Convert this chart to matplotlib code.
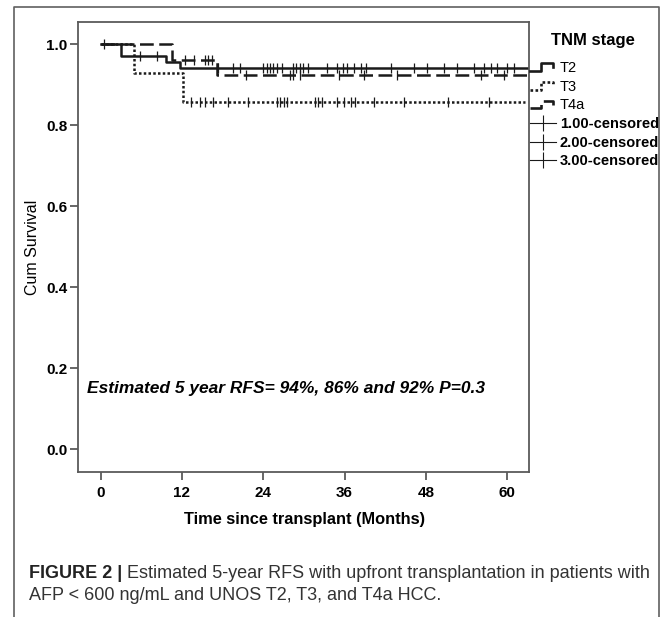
import matplotlib
matplotlib.use("Agg")
import matplotlib.pyplot as plt
from matplotlib.lines import Line2D
from matplotlib.legend_handler import HandlerBase
import numpy as np

plt.rcParams['font.family'] = ['Liberation Sans', 'DejaVu Sans']

# Kaplan-Meier step data (months, cum survival)
t2_times = [0, 3.0, 9.7, 11.7]
t2_surv = [1.0, 0.971, 0.957, 0.942]
t2_end = 63.0
t2_censor = [0.5, 5.8, 8.3, 17.3, 19.6, 20.6, 24.0, 24.5, 25.0, 25.5, 26.0, 26.7,
             28.4, 28.9, 29.4, 29.9, 30.6, 33.4, 34.9, 35.7, 36.4, 37.4, 38.4,
             39.1, 42.8, 46.2, 48.2, 50.7, 52.6, 55.1, 56.6, 57.6, 58.5, 60.0, 61.0]

t3_times = [0, 4.9, 12.2]
t3_surv = [1.0, 0.929, 0.857]
t3_end = 62.7
t3_censor = [13.4, 14.7, 15.4, 16.6, 18.8, 21.8, 26.0, 26.5, 27.0, 27.5, 31.6,
             32.1, 32.6, 34.9, 35.9, 36.9, 37.6, 40.3, 44.8, 51.2, 57.3]

t4a_times = [0, 10.5, 17.1]
t4a_surv = [1.0, 0.962, 0.924]
t4a_end = 63.2
t4a_censor = [12.4, 13.7, 15.4, 15.9, 16.4, 21.5, 27.9, 28.4, 29.4, 35.2, 38.9,
              43.8, 56.1, 59.5]

x_ticks = [0, 12, 24, 36, 48, 60]
y_ticks = [0.0, 0.2, 0.4, 0.6, 0.8, 1.0]
group_labels = ['T2', 'T3', 'T4a']
censor_labels = ['1.00-censored', '2.00-censored', '3.00-censored']
note = 'Estimated 5 year RFS= 94%, 86% and 92% P=0.3'

ink = '#1a1a1a'
frame = '#5a5a5a'
styles = {'T2': '-', 'T3': (0, (1.0, 0.9)), 'T4a': (0, (5.5, 2.2))}

fig = plt.figure(figsize=(6.69, 6.17), dpi=100)
ax = fig.add_axes([78 / 669, 1 - 472 / 617, 451 / 669, 450 / 617])


def draw_km(times, surv, end, cens, ls):
    t = np.array(list(times) + [end])
    s = np.array(list(surv) + [surv[-1]])
    ax.step(t, s, where='post', color=ink, lw=1.8, linestyle=ls)
    idx = np.searchsorted(np.array(times), np.array(cens), side='right') - 1
    ax.plot(cens, np.array(surv)[idx], linestyle='none', marker='|',
            markersize=7, markeredgewidth=0.9, color=ink)


draw_km(t2_times, t2_surv, t2_end, t2_censor, styles['T2'])
draw_km(t4a_times, t4a_surv, t4a_end, t4a_censor, styles['T4a'])
draw_km(t3_times, t3_surv, t3_end, t3_censor, styles['T3'])

ax.set_xlim(-3.35, 63.22)
ax.set_ylim(-0.056, 1.055)
ax.set_xticks(x_ticks)
ax.set_yticks(y_ticks)
ax.set_yticklabels(['%.1f' % v for v in y_ticks])
for sp in ax.spines.values():
    sp.set_color(frame)
    sp.set_linewidth(1.3)
ax.tick_params(axis='both', direction='out', length=6, width=1.3, color=frame,
               labelsize=11, labelcolor='black')
ax.tick_params(axis='x', pad=4)
ax.tick_params(axis='y', pad=1.5)
for lab in ax.get_xticklabels() + ax.get_yticklabels():
    lab.set_fontweight('bold')

ax.set_xlabel('Time since transplant (Months)', fontsize=11.8, fontweight='bold')
ax.xaxis.set_label_coords(0.502, -0.088)
ax.set_ylabel('Cum Survival', fontsize=11.5)
ax.yaxis.set_label_coords(-0.085, 0.5)

ax.text(-2.0, 0.151, note, fontsize=12.5, fontweight='bold', fontstyle='italic',
        va='center', ha='left')


class StepHandler(HandlerBase):
    def __init__(self, ls):
        super().__init__()
        self.ls = ls

    def create_artists(self, legend, orig_handle, xdescent, ydescent, width,
                       height, fontsize, trans):
        w, h = width, height
        xs = [0, w * 0.45, w * 0.45, w * 0.9, w * 0.9]
        ys = [h * 0.1, h * 0.1, h * 0.85, h * 0.85, h * 0.45]
        ln = Line2D(xs, ys, color=ink, lw=1.9, linestyle=self.ls, transform=trans)
        return [ln]


handles = []
handler_map = {}
for g in group_labels:
    hnd = Line2D([], [], color=ink)
    handles.append(hnd)
    handler_map[hnd] = StepHandler(styles[g])
for c in censor_labels:
    handles.append(Line2D([], [], color=ink, lw=0.8, marker='|', markersize=11,
                          markeredgewidth=0.8))
labels = group_labels + censor_labels

leg = fig.legend(handles, labels, handler_map=handler_map, loc='upper left',
                 bbox_to_anchor=(530 / 669, 1 - 61 / 617), frameon=False,
                 handlelength=1.75, handletextpad=0.3, labelspacing=0.32,
                 borderpad=0, borderaxespad=0, numpoints=1, fontsize=10.5)
for txt in leg.get_texts()[3:]:
    txt.set_fontweight('bold')

fig.text(551 / 669, 1 - 40 / 617, 'TNM stage', fontsize=12, fontweight='bold',
         va='center', ha='left')

# outer frame of the figure panel
fig.add_artist(Line2D([14 / 669, 14 / 669, 659 / 669, 659 / 669],
                      [0, 1 - 7 / 617, 1 - 7 / 617, 0], transform=fig.transFigure,
                      color='#606060', lw=1.2))

# caption
renderer = fig.canvas.get_renderer()
cap_bold = fig.text(29 / 669, 1 - 573 / 617, 'FIGURE 2 |', fontsize=13,
                    fontweight='bold', color='#222222', va='center', ha='left')
bb = cap_bold.get_window_extent(renderer)
fig.text((bb.x1 + 5) / 669, 1 - 573 / 617,
         'Estimated 5-year RFS with upfront transplantation in patients with',
         fontsize=13, color='#333333', va='center', ha='left')
fig.text(29 / 669, 1 - 596 / 617, 'AFP < 600 ng/mL and UNOS T2, T3, and T4a HCC.',
         fontsize=13, color='#333333', va='center', ha='left')

fig.savefig('out.png', dpi=100)
